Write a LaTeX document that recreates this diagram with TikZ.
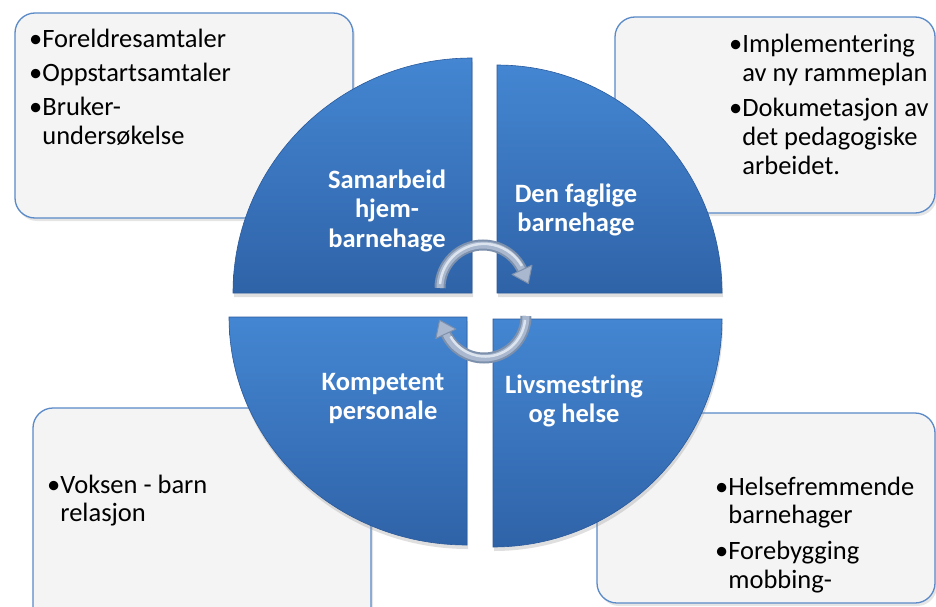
\documentclass[tikz,border=0pt]{standalone}
\usepackage{fontspec}
\setmainfont{Carlito}
\usetikzlibrary{shadows}
\definecolor{boxfill}{HTML}{F4F4F4}
\definecolor{boxline}{HTML}{5A8AC8}
\definecolor{qtop}{HTML}{4486D2}
\definecolor{qbot}{HTML}{2F63A8}
\definecolor{qedge}{HTML}{2A5A9C}
\definecolor{arrowdark}{HTML}{7D90AC}
\definecolor{arrowmid}{HTML}{A9B8CE}
\definecolor{arrowlight}{HTML}{DCE4EF}
\begin{document}
\begin{tikzpicture}[x=1pt,y=-1pt,
  infobox/.style={draw=boxline, line width=1.3pt, fill=boxfill, rounded corners=20pt,
    drop shadow={opacity=0.2, shadow xshift=2pt, shadow yshift=-3pt}},
  quarter/.style={top color=qtop, bottom color=qbot, draw=qedge, line width=0.6pt,
    drop shadow={opacity=0.25, shadow xshift=1pt, shadow yshift=-4pt}},
  boxtext/.style={inner sep=0pt, anchor=base west, text=black,
    font=\fontsize{26.5}{28.8}\selectfont},
  qlabel/.style={inner sep=0pt, anchor=base, text=white,
    font=\bfseries\fontsize{26.5}{29.5}\selectfont},
  tube/.style={line width=11pt, draw=arrowdark},
  tubein/.style={line width=7pt, draw=arrowmid},
  tubehi/.style={line width=2.5pt, draw=arrowlight},
  headstyle/.style={fill=arrowmid, draw=arrowdark, line width=1pt, line join=round}
]
\useasboundingbox (0,0) rectangle (936,607);
\clip (0,0) rectangle (936,607);
\fill[white] (0,0) rectangle (936,607);

% information boxes
\path[infobox] (15,13) rectangle (353,218);
\path[infobox] (615,17) rectangle (935,213);
\path[infobox] (33,408) rectangle (371,640);
\path[infobox] (597,413) rectangle (935,603);

\node[boxtext] (t1) at (29,48) {\begin{tabular}[t]{@{}l@{}l@{}}
•&Foreldresamtaler\\[5pt]
•&Oppstartsamtaler\\[5pt]
•&Bruker-\\
&undersøkelse\end{tabular}};
\node[boxtext] (t2) at (729,53) {\begin{tabular}[t]{@{}l@{}l@{}}
•&Implementering\\
&av ny rammeplan\\[6pt]
•&Dokumetasjon av\\
&det pedagogiske\\
&arbeidet.\end{tabular}};
\node[boxtext] (t3) at (47,493) {\begin{tabular}[t]{@{}l@{}l@{}}
•&Voksen - barn\\
&relasjon\end{tabular}};
\node[boxtext] (t4) at (715,495) {\begin{tabular}[t]{@{}l@{}l@{}}
•&Helsefremmende\\
&barnehager\\[7pt]
•&Forebygging\\
&mobbing-\end{tabular}};

% quadrants
\path[quarter] (472,293) -- (472,58) arc[start angle=270, end angle=180, x radius=239, y radius=235] -- cycle;
\path[quarter] (497,293) -- (497,65) arc[start angle=270, end angle=360, x radius=225, y radius=228] -- cycle;
\path[quarter] (467,317) -- (229,317) arc[start angle=180, end angle=90, x radius=238, y radius=228] -- cycle;
\path[quarter] (493,319) -- (493,547) arc[start angle=90, end angle=0, x radius=229, y radius=228] -- cycle;

\node[qlabel] (q1) at (387,188) {\begin{tabular}[t]{@{}c@{}}Samarbeid\\hjem-\\barnehage\end{tabular}};
\node[qlabel] (q2) at (576,202) {\begin{tabular}[t]{@{}c@{}}Den faglige\\barnehage\end{tabular}};
\node[qlabel] (q3) at (383,390) {\begin{tabular}[t]{@{}c@{}}Kompetent\\personale\end{tabular}};
\node[qlabel] (q4) at (574,393) {\begin{tabular}[t]{@{}c@{}}Livsmestring\\og helse\end{tabular}};

% circular arrows
\coordinate (c1) at (483,288);
\coordinate (c2) at (484,316);
\draw[tube] (440,288) arc[start angle=180, end angle=335, radius=43];
\draw[tubein] (440,288) arc[start angle=180, end angle=335, radius=43];
\draw[tubehi] (440,284) arc[start angle=185, end angle=330, radius=44];
\path[headstyle] (532,265.2) -- (528.3,283.4) -- (512,274.5) -- cycle;

\draw[tube] (526,316) arc[start angle=0, end angle=155, radius=42];
\draw[tubein] (526,316) arc[start angle=0, end angle=155, radius=42];
\draw[tubehi] (525,320) arc[start angle=5, end angle=150, radius=40];
\path[headstyle] (435.9,338.4) -- (439.6,320.2) -- (455.9,329.1) -- cycle;
\end{tikzpicture}
\end{document}
